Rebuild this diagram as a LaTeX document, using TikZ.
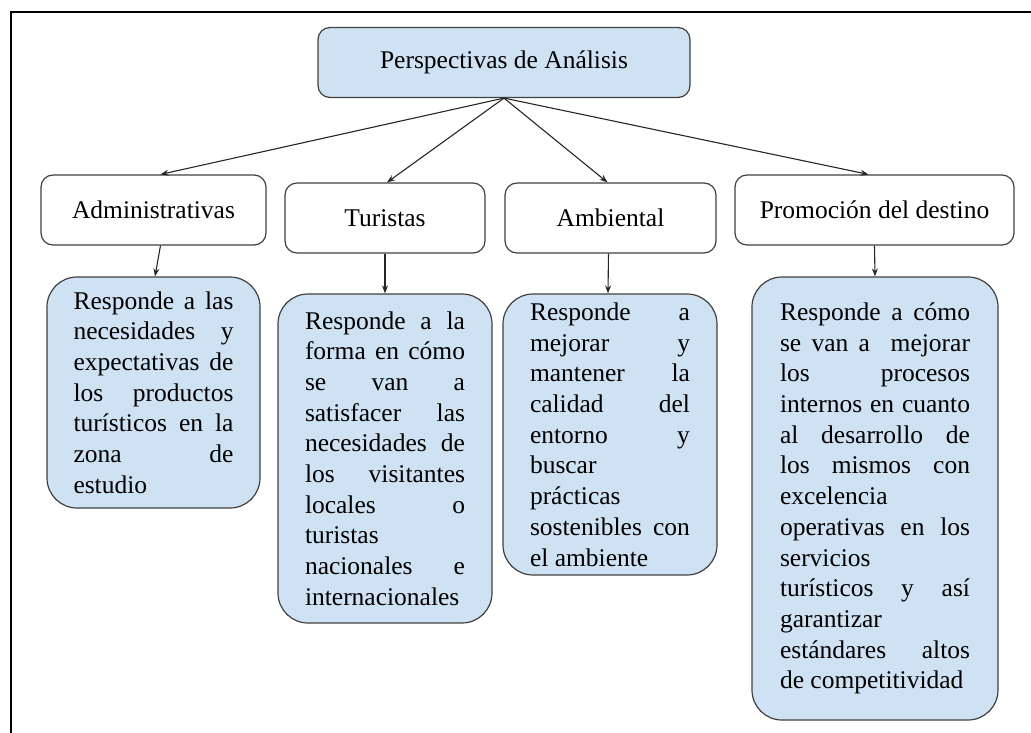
\documentclass[tikz,border=0pt]{standalone}
\usepackage{fontspec}
\setmainfont{Liberation Serif}
\usetikzlibrary{arrows,arrows.meta}
\usetikzlibrary{positioning}
\definecolor{cajaazul}{HTML}{CFE2F3}
\definecolor{borde}{HTML}{404040}
\tolerance=10000 \hbadness=10000 \hyphenpenalty=10000
\tikzstyle{perspectiva} = [rectangle, rounded corners=12pt, draw=borde, line width=1.2pt, align=center, inner sep=0pt, minimum height=70pt, font=\fontsize{25.5}{30.7}\selectfont]
\tikzstyle{detalle} = [rectangle, rounded corners=30pt, draw=borde, fill=cajaazul, line width=1.2pt, align=justify, text width=160pt, inner ysep=0pt, font=\fontsize{25.5}{30.7}\selectfont]
\tikzstyle{flecha} = [-{Stealth[length=8pt,width=6pt]}, draw=black!85, line width=1.1pt]

\begin{document}
\begin{tikzpicture}[x=1pt, y=-1pt]
  \useasboundingbox (0,0) rectangle (1031,733);
  \draw[line width=2pt] (1031,12.5) -| (11,733);

  \node (raiz) [perspectiva, fill=cajaazul, minimum width=372pt] at (504,62.5) {Perspectivas de Análisis};

  \node (adm) [perspectiva, minimum width=225pt] at (153.5,210) {Administrativas};
  \node (tur) [perspectiva, minimum width=200pt] at (385,218) {Turistas};
  \node (amb) [perspectiva, minimum width=211pt] at (610.5,218) {Ambiental};
  \node (pro) [perspectiva, minimum width=279pt] at (874.5,210) {Promoción del destino};

  \node (admtxt) [detalle, inner xsep=26.5pt, minimum height=231pt] at (153.5,392.5) {Responde a las\linebreak necesidades y\linebreak expectativas de\linebreak los productos\linebreak turísticos en la\linebreak zona de\linebreak estudio};
  \node (turtxt) [detalle, inner xsep=27pt, minimum height=329pt] at (385,458.5) {Responde a la\linebreak forma en cómo\linebreak se van a\linebreak satisfacer las\linebreak necesidades de\linebreak los visitantes\linebreak locales o\linebreak turistas\linebreak nacionales e\linebreak internacionales};
  \node (ambtxt) [detalle, inner xsep=27pt, minimum height=281pt] at (610,434.5) {Responde a\linebreak mejorar y\linebreak mantener la\linebreak calidad del\linebreak entorno y\linebreak buscar\linebreak prácticas\linebreak sostenibles con\linebreak el ambiente};
  \node (protxt) [detalle, text width=190pt, inner xsep=28pt, minimum height=443pt] at (875,498.5) {Responde a cómo\linebreak se van a\ \ mejorar\linebreak los procesos\linebreak internos en cuanto\linebreak al desarrollo de\linebreak los mismos con\linebreak excelencia\linebreak operativas en los\linebreak servicios\linebreak turísticos y así\linebreak garantizar\linebreak estándares altos\linebreak de competitividad};

  \draw[flecha] (raiz.south) -- ([xshift=7pt]adm.north);
  \draw[flecha] (raiz.south) -- ([xshift=2pt]tur.north);
  \draw[flecha] (raiz.south) -- ([xshift=-3pt]amb.north);
  \draw[flecha] (raiz.south) -- ([xshift=-6pt]pro.north);

  \draw[flecha] ([xshift=7pt]adm.south) -- ([xshift=1.5pt]admtxt.north);
  \draw[flecha] (tur.south) -- (turtxt.north);
  \draw[flecha] ([xshift=-2pt]amb.south) -- ([xshift=-2pt]ambtxt.north);
  \draw[flecha] (pro.south) -- (protxt.north);
\end{tikzpicture}
\end{document}
